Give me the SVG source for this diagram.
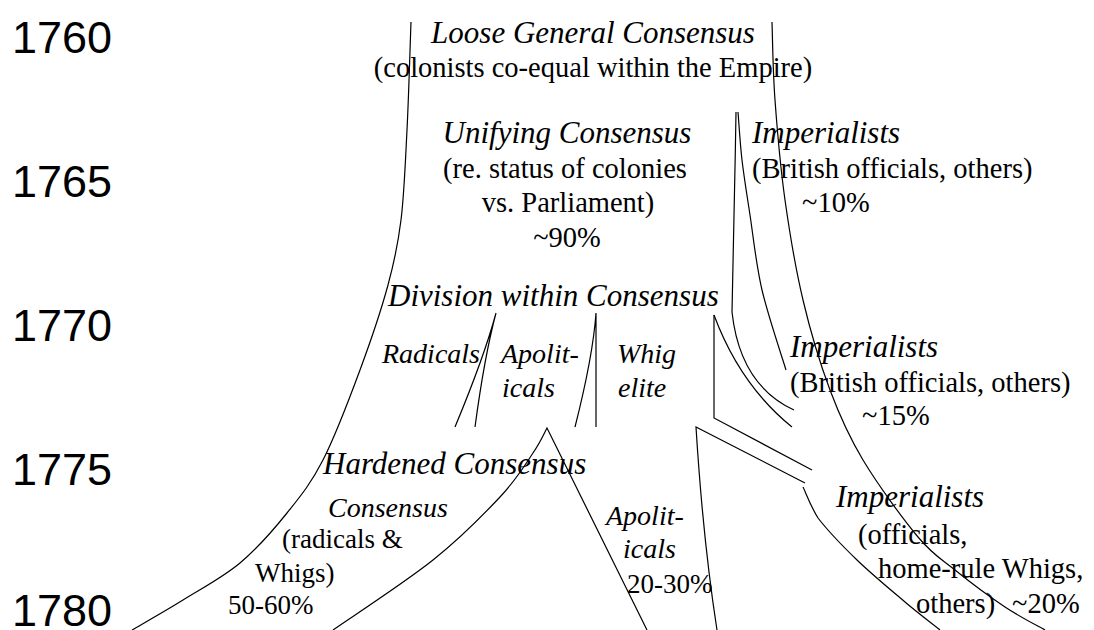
<svg xmlns="http://www.w3.org/2000/svg" width="1094" height="630" viewBox="0 0 1094 630">
<style>
.y{font-family:"Liberation Sans",Arial,sans-serif;font-size:45px;fill:#000}
.h{font-family:"Liberation Serif","Times New Roman",serif;font-style:italic;font-size:31px;fill:#000}
.s{font-family:"Liberation Serif","Times New Roman",serif;font-style:italic;font-size:28px;fill:#000}
.b{font-family:"Liberation Serif","Times New Roman",serif;font-size:28.5px;fill:#000}
.c{font-family:"Liberation Serif","Times New Roman",serif;font-size:27px;fill:#000}
.m{text-anchor:middle}
#lines path{fill:none;stroke:#000;stroke-width:1.2}
</style>
<rect width="1094" height="630" fill="#fff"/>
<g id="years">
<text class="y" x="12" y="53">1760</text>
<text class="y" x="12" y="197">1765</text>
<text class="y" x="12" y="341">1770</text>
<text class="y" x="12" y="485">1775</text>
<text class="y" x="12" y="626">1780</text>
</g>
<g id="lines">
<path d="M411,22 C410.3,40 408.7,97 407,130 C405.3,163 404.2,194.2 401,220 C397.8,245.8 394.8,260 388,285 C381.2,310 370.8,340.8 360,370 C349.2,399.2 335.2,436.2 323,460 C310.8,483.8 300.8,495.8 287,513 C273.2,530.2 257.3,548.5 240,563 C222.7,577.5 201,588.8 183,600 C165,611.2 140.5,625 132,630"/>
<path d="M772,22 C772.5,35 772.8,70.3 775,100 C777.2,129.7 780.3,166.7 785,200 C789.7,233.3 795.5,268.3 803,300 C810.5,331.7 820,363.3 830,390 C840,416.7 848.3,435.5 863,460 C877.7,484.5 902.7,518.7 918,537 C933.3,555.3 940.5,558.3 955,570 C969.5,581.7 990,597 1005,607 C1020,617 1038.3,626.2 1045,630"/>
<path d="M738,112 C738.7,120 740,142.8 742,160 C744,177.2 746.7,193.3 750,215 C753.3,236.7 756,264.2 762,290 C768,315.8 782,356.7 786,370"/>
<path d="M736,112 C735,180 733,250 732,312 Q740,385 794,410"/>
<path d="M714,315 Q740,385 792,427"/>
<path d="M714,315 L714,418 L812,470"/>
<path d="M805,483 L696,427 Q703,540 717,630"/>
<path d="M803,487 C806,493 810,505 818,518 C827.7,530.5 842.5,546 857,560 C871.5,574 891.2,590.3 905,602 C918.8,613.7 934.2,625.3 940,630"/>
<path d="M333,630 C349.7,618.3 405.2,582.2 433,560 C460.8,537.8 483.3,514.8 500,497 C516.7,479.2 525.2,464.5 533,453 C540.8,441.5 544.7,432.2 547,428 L647,630"/>
<path d="M455,427 Q484.5,356 496,313 Q484.5,356 475,427"/>
<path d="M575,427 Q593,356 596,313 L596,427"/>
</g>
<g id="loose">
<text class="h m" x="593" y="43">Loose General Consensus</text>
<text class="b m" x="593" y="77">(colonists co-equal within the Empire)</text>
</g>
<g id="unifying">
<text class="h m" x="567" y="143">Unifying Consensus</text>
<text class="b m" x="565" y="178">(re. status of colonies</text>
<text class="b m" x="568" y="212">vs. Parliament)</text>
<text class="b m" x="567" y="247">~90%</text>
</g>
<g id="imperialists1765">
<text class="h" x="752" y="143">Imperialists</text>
<text class="b" x="752" y="178">(British officials, others)</text>
<text class="b" x="802" y="212">~10%</text>
</g>
<g id="division">
<text class="h" x="388" y="306">Division within Consensus</text>
<text class="s" x="382" y="363">Radicals</text>
<text class="s" x="501" y="363">Apolit-</text>
<text class="s" x="502" y="397">icals</text>
<text class="s" x="617" y="363">Whig</text>
<text class="s" x="618" y="397">elite</text>
</g>
<g id="imperialists1770">
<text class="h" x="790" y="357">Imperialists</text>
<text class="b" x="790" y="392">(British officials, others)</text>
<text class="b" x="862" y="425">~15%</text>
</g>
<g id="hardened">
<text class="h" x="323" y="474">Hardened Consensus</text>
<text class="s" x="328" y="517">Consensus</text>
<text class="c" x="282" y="548">(radicals &amp;</text>
<text class="c" x="255" y="582">Whigs)</text>
<text class="c" x="228" y="614">50-60%</text>
</g>
<g id="apoliticals1780">
<text class="s" x="606" y="525">Apolit-</text>
<text class="s" x="623" y="558">icals</text>
<text class="c" x="627" y="593">20-30%</text>
</g>
<g id="imperialists1780">
<text class="h" x="836" y="507">Imperialists</text>
<text class="b" x="858" y="544">(officials,</text>
<text class="b" x="878" y="578">home-rule Whigs,</text>
<text class="b" x="916" y="613">others)<tspan x="1012">~20%</tspan></text>
</g>
</svg>
